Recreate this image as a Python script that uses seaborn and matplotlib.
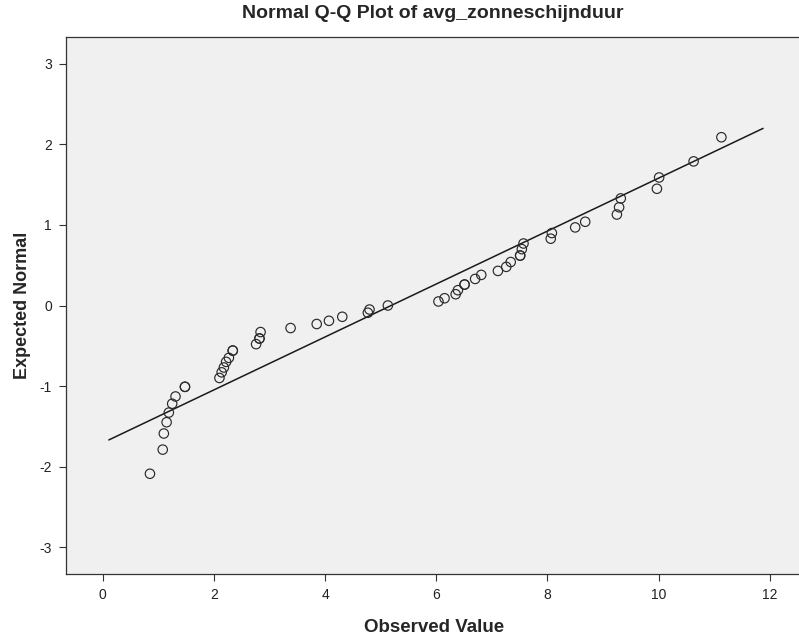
import matplotlib
matplotlib.use("Agg")
import matplotlib.pyplot as plt
import seaborn as sns
import pandas as pd
from matplotlib import font_manager

observed = [0.85, 1.08, 1.10, 1.15, 1.19, 1.25, 1.31, 1.48, 1.48,
            2.10, 2.14, 2.18, 2.22, 2.27, 2.34, 2.34,
            2.76, 2.82, 2.82, 2.84,
            3.38, 3.85, 4.07, 4.31, 4.77, 4.80, 5.13,
            6.04, 6.15, 6.35, 6.39, 6.51, 6.51, 6.70, 6.81,
            7.11, 7.26, 7.34, 7.51, 7.51, 7.54, 7.57,
            8.06, 8.08, 8.50, 8.68,
            9.25, 9.29, 9.32, 9.97, 10.01, 10.63, 11.13]

# Expected normal values
expected = [-2.09, -1.79, -1.59, -1.45, -1.33, -1.22, -1.13, -1.01, -1.01,
            -0.90, -0.83, -0.77, -0.70, -0.65, -0.56, -0.56,
            -0.48, -0.41, -0.41, -0.33,
            -0.28, -0.23, -0.19, -0.14, -0.09, -0.05, 0.00,
            0.05, 0.09, 0.14, 0.19, 0.26, 0.26, 0.33, 0.38,
            0.43, 0.48, 0.54, 0.62, 0.62, 0.70, 0.77,
            0.83, 0.90, 0.97, 1.04,
            1.13, 1.22, 1.33, 1.45, 1.59, 1.79, 2.09]

# Reference line end points
line_x = [0.11, 11.88]
line_y = [-1.67, 2.20]

x_ticks = [0, 2, 4, 6, 8, 10, 12]
y_ticks = [-3, -2, -1, 0, 1, 2, 3]

title = "Normal Q-Q Plot of avg_zonneschijnduur"
x_label = "Observed Value"
y_label = "Expected Normal"

sns.set_theme(style="ticks")
plt.rcParams['font.family'] = ['Liberation Sans', 'DejaVu Sans']
plt.rcParams['axes.unicode_minus'] = False

names = {f.name for f in font_manager.fontManager.ttflist}
tick_family = 'Liberation Sans Narrow' if 'Liberation Sans Narrow' in names else 'Liberation Sans'

W, H = 799, 636
fig = plt.figure(figsize=(W / 100, H / 100), dpi=100)
fig.patch.set_facecolor("white")
left, right, top, bottom = 66, 802, 37, 574
ax = fig.add_axes([left / W, (H - bottom) / H, (right - left) / W, (bottom - top) / H])
ax.set_facecolor("#F0F0F0")

pts = pd.DataFrame({"observed": observed, "expected": expected})
ln = pd.DataFrame({"x": line_x, "y": line_y})

sns.lineplot(data=ln, x="x", y="y", ax=ax, color="#1a1a1a", linewidth=1.1, zorder=2)
sns.scatterplot(data=pts, x="observed", y="expected", ax=ax, marker="o",
                s=46, facecolors="none", edgecolor="#2a2a2a", linewidth=0.85, zorder=3)

ax.set_xlim(-0.66, 12.58)
ax.set_ylim(-3.335, 3.335)
ax.set_xticks(x_ticks)
ax.set_yticks(y_ticks)
ax.set_xticklabels([str(t) for t in x_ticks])
ax.set_yticklabels([str(t) for t in y_ticks])
ax.tick_params(axis="both", direction="out", length=5, width=0.8, color="#333333",
               labelsize=10, labelcolor="#222222", pad=5)
for lab in ax.get_xticklabels() + ax.get_yticklabels():
    lab.set_family(tick_family)

for s in ax.spines.values():
    s.set_color("#333333")
    s.set_linewidth(0.9)

ax.set_xlabel(x_label, fontsize=13.5, fontweight="bold", labelpad=12)
ax.set_ylabel(y_label, fontsize=13, fontweight="bold", labelpad=6)
fig.text((66 + 799) / 2 / W, 1 - 14 / H, title, ha="center", va="center",
         fontsize=14, fontweight="bold")

fig.savefig("out.png", dpi=100)
